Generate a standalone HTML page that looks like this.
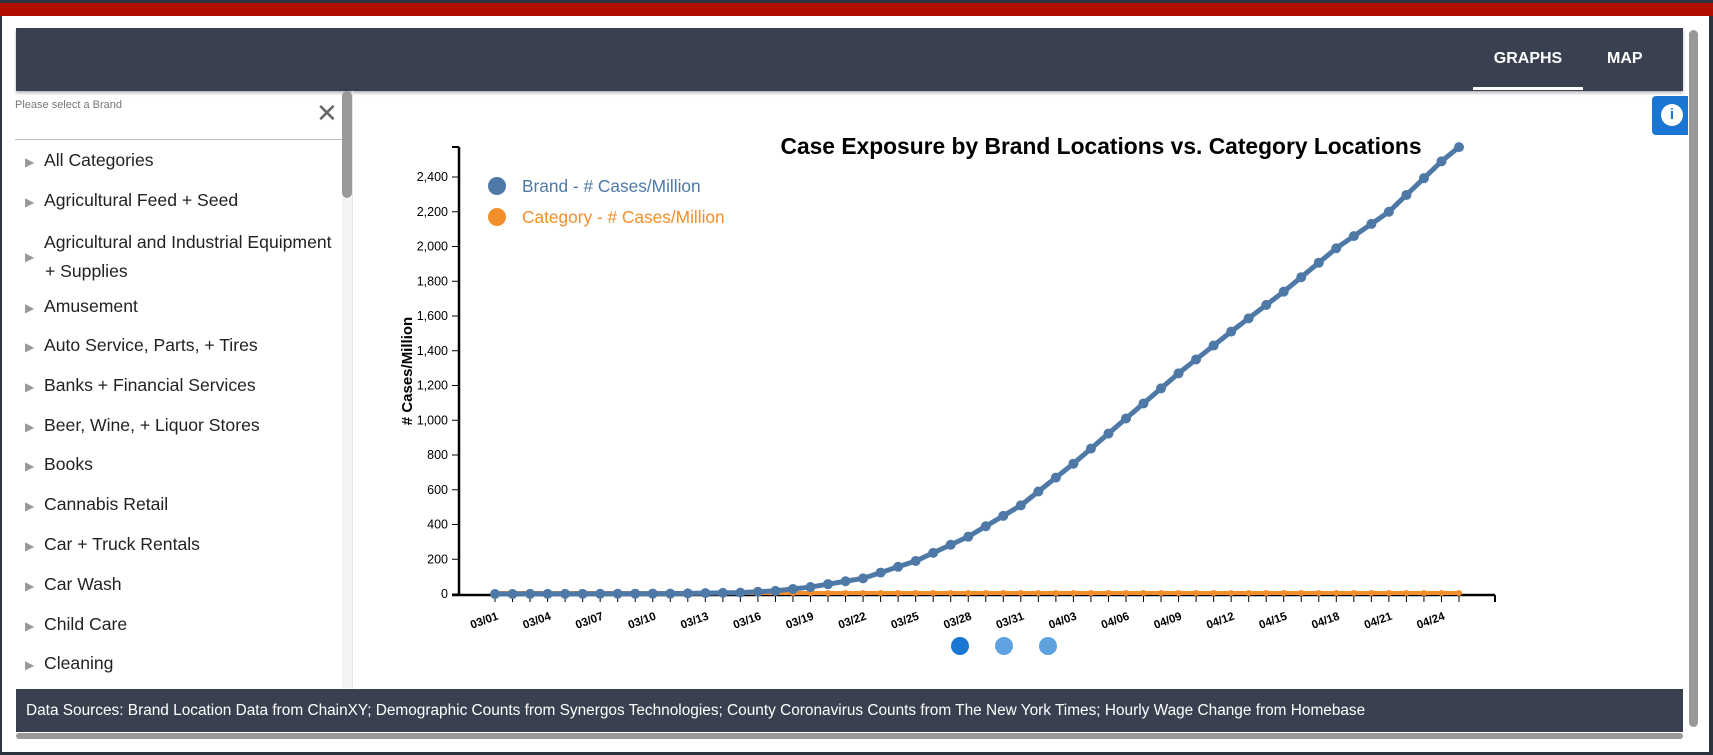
<!DOCTYPE html>
<html><head><meta charset="utf-8"><style>
body{margin:0;width:1713px;height:755px;background:#2d3440;position:relative;overflow:hidden;font-family:"Liberation Sans",sans-serif}
.abs{position:absolute}
</style></head><body>
<div class="abs" style="left:0;top:3px;width:1713px;height:13px;background:#b00e00"></div>
<div class="abs" style="left:2px;top:16px;width:1707px;height:736px;background:#fff"></div>
<div class="abs" style="left:16px;top:28px;width:1667px;height:63px;background:#394150;box-shadow:0 2px 3px rgba(0,0,0,.3)"></div>
<div class="abs" style="left:1473px;top:50px;width:110px;text-align:center;color:#fff;font-weight:bold;font-size:16px">GRAPHS</div>
<div class="abs" style="left:1473px;top:87px;width:110px;height:3px;background:#fff"></div>
<div class="abs" style="left:1607px;top:50px;color:#fff;font-weight:bold;font-size:16px">MAP</div>
<div class="abs" style="left:1689px;top:30px;width:9px;height:697px;background:#999;border-radius:5px"></div>
<div class="abs" style="left:1652px;top:96px;width:36px;height:39px;background:#1976d2;border-radius:4px 0 0 4px"></div>
<div class="abs" style="left:1661px;top:104px;width:22px;height:22px;border-radius:50%;background:#fff;color:#1976d2;font-weight:bold;font-size:15px;text-align:center;line-height:22px">i</div>
<div class="abs" style="left:15px;top:99px;font-size:11px;color:#777">Please select a Brand</div>
<div class="abs" style="left:316px;top:100px;font-size:26px;color:#666;line-height:26px">✕</div>
<div class="abs" style="left:15px;top:139px;width:327px;height:1px;background:#bbb"></div>
<div class="abs" style="left:342px;top:91px;width:10px;height:107px;background:#999;border-radius:5px"></div>
<div class="abs" style="left:352px;top:91px;width:1px;height:598px;background:#e6e6e6"></div>
<div class="abs" style="left:342px;top:198px;width:10px;height:490px;background:#f4f4f4"></div>
<div class="abs" style="left:25px;top:0;font-size:17.6px;color:#222">
<div class="abs" style="top:150px;white-space:nowrap"><span style="color:#999;font-size:12px">▶</span>&nbsp;&nbsp;All Categories</div>
<div class="abs" style="top:190px;white-space:nowrap"><span style="color:#999;font-size:12px">▶</span>&nbsp;&nbsp;Agricultural Feed + Seed</div>
<div class="abs" style="top:229px;white-space:nowrap;line-height:27px"><span style="color:#999;font-size:12px;position:relative;top:13px">▶</span>&nbsp;&nbsp;Agricultural and Industrial Equipment<br><span style="padding-left:20px">+ Supplies</span></div>
<div class="abs" style="top:296px;white-space:nowrap"><span style="color:#999;font-size:12px">▶</span>&nbsp;&nbsp;Amusement</div>
<div class="abs" style="top:335px;white-space:nowrap"><span style="color:#999;font-size:12px">▶</span>&nbsp;&nbsp;Auto Service, Parts, + Tires</div>
<div class="abs" style="top:375px;white-space:nowrap"><span style="color:#999;font-size:12px">▶</span>&nbsp;&nbsp;Banks + Financial Services</div>
<div class="abs" style="top:415px;white-space:nowrap"><span style="color:#999;font-size:12px">▶</span>&nbsp;&nbsp;Beer, Wine, + Liquor Stores</div>
<div class="abs" style="top:454px;white-space:nowrap"><span style="color:#999;font-size:12px">▶</span>&nbsp;&nbsp;Books</div>
<div class="abs" style="top:494px;white-space:nowrap"><span style="color:#999;font-size:12px">▶</span>&nbsp;&nbsp;Cannabis Retail</div>
<div class="abs" style="top:534px;white-space:nowrap"><span style="color:#999;font-size:12px">▶</span>&nbsp;&nbsp;Car + Truck Rentals</div>
<div class="abs" style="top:574px;white-space:nowrap"><span style="color:#999;font-size:12px">▶</span>&nbsp;&nbsp;Car Wash</div>
<div class="abs" style="top:614px;white-space:nowrap"><span style="color:#999;font-size:12px">▶</span>&nbsp;&nbsp;Child Care</div>
<div class="abs" style="top:653px;white-space:nowrap"><span style="color:#999;font-size:12px">▶</span>&nbsp;&nbsp;Cleaning</div>
</div>
<div class="abs" style="left:16px;top:689px;width:1667px;height:43px;background:#394150"></div>
<div class="abs" style="left:26px;top:702px;color:#fff;font-size:15.4px;white-space:nowrap">Data Sources: Brand Location Data from ChainXY; Demographic Counts from Synergos Technologies; County Coronavirus Counts from The New York Times; Hourly Wage Change from Homebase</div>
<div class="abs" style="left:16px;top:733px;width:1667px;height:6px;background:#999;border-radius:3px"></div>
<svg class="abs" style="left:0;top:0" width="1713" height="755" id="c"></svg>
<script>
var s=document.getElementById('c'),h='';
var y0=594,k=(594-177)/2400;
function Y(v){return y0-v*k}
h+='<text x="1101" y="154" text-anchor="middle" font-weight="bold" font-size="22.8" font-family="Liberation Sans">Case Exposure by Brand Locations vs. Category Locations</text>';
h+='<line x1="459" y1="147" x2="459" y2="596" stroke="#000" stroke-width="2.5"/><line x1="452" y1="147" x2="459" y2="147" stroke="#000" stroke-width="2"/>';
h+='<line x1="452" y1="595" x2="1495" y2="595" stroke="#000" stroke-width="2.5"/><line x1="1495" y1="595" x2="1495" y2="602" stroke="#000" stroke-width="2"/>';
for(var v=0;v<=2400;v+=200){var y=Y(v);h+='<line x1="452" y1="'+y+'" x2="459" y2="'+y+'" stroke="#000"/><text x="448" y="'+(y+4)+'" text-anchor="end" font-size="12.5" font-family="Liberation Sans">'+v.toLocaleString('en-US')+'</text>';}
h+='<text transform="translate(412,371) rotate(-90)" text-anchor="middle" font-weight="bold" font-size="15" font-family="Liberation Sans"># Cases/Million</text>';
var kp=[[0,0],[10,2],[14,8],[16,18],[18,40],[21,90],[24,190],[27,330],[30,510],[33,750],[36,1010],[39,1270],[42,1510],[45,1740],[48,1990],[51,2200],[54,2490],[55,2572]];
function val(i){for(var j=0;j<kp.length-1;j++){if(i<=kp[j+1][0]){var a=kp[j],b=kp[j+1];return a[1]+(b[1]-a[1])*(i-a[0])/(b[0]-a[0]);}}}
var x0=495,dx=(1459-495)/55,pb='',pc='',db='',dc='';
for(var i=0;i<56;i++){var x=x0+i*dx,v=val(i),y=Y(v);pb+=(i?'L':'M')+x+' '+y;pc+=(i?'L':'M')+x+' '+(y0-1);
h+='<line x1="'+x+'" y1="595" x2="'+x+'" y2="602" stroke="#000"/>';
db+='<circle cx="'+x+'" cy="'+y+'" r="5" fill="#4e79a7"/>';dc+='<circle cx="'+x+'" cy="'+(y0-1)+'" r="3" fill="#f28e2b"/>';
if(i%3==0){var d=new Date(2020,2,1+i);var lb=('0'+(d.getMonth()+1)).slice(-2)+'/'+('0'+d.getDate()).slice(-2);
h+='<text transform="translate('+(x+4)+',619) rotate(-20)" text-anchor="end" font-size="11.5" font-weight="bold" font-family="Liberation Sans">'+lb+'</text>';}}
h+='<path d="'+pc+'" fill="none" stroke="#f28e2b" stroke-width="4"/>'+dc;
h+='<path d="'+pb+'" fill="none" stroke="#4e79a7" stroke-width="5"/>'+db;
h+='<circle cx="497" cy="186" r="9" fill="#4e79a7"/><text x="522" y="192" fill="#4e79a7" font-size="17.3" font-family="Liberation Sans">Brand - # Cases/Million</text>';
h+='<circle cx="497" cy="217" r="9" fill="#f28e2b"/><text x="522" y="223" fill="#f28e2b" font-size="17.3" font-family="Liberation Sans">Category - # Cases/Million</text>';
h+='<circle cx="960" cy="646" r="9" fill="#1976d2"/><circle cx="1004" cy="646" r="9" fill="#5ea3e0"/><circle cx="1048" cy="646" r="9" fill="#5ea3e0"/>';
s.innerHTML=h;
</script>
</body></html>
